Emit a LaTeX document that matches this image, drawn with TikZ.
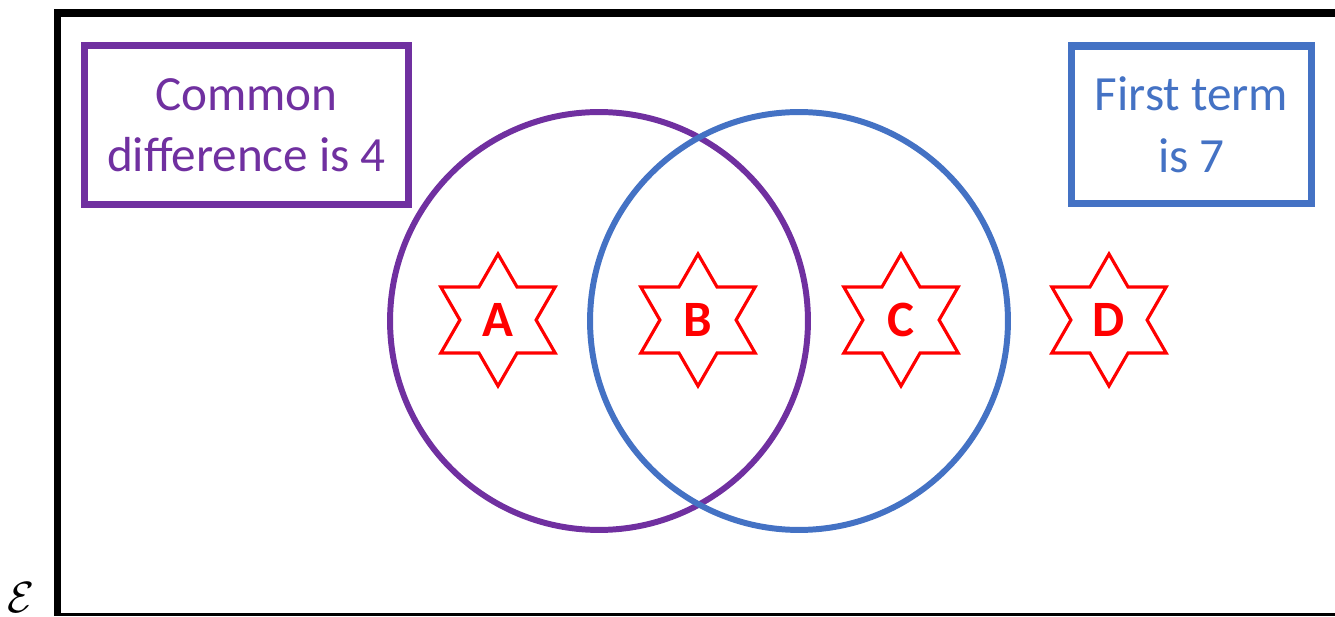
\documentclass[tikz,border=0pt]{standalone}
\usepackage{fontspec}
\setmainfont{Carlito}
\usetikzlibrary{shapes.geometric}

\definecolor{setpurple}{HTML}{7030A0}
\definecolor{setblue}{HTML}{4472C4}
\definecolor{starred}{HTML}{FF0000}

\tikzset{
  setring/.style={draw, circle, line width=3.4pt, minimum size=8.36cm, inner sep=0pt},
  rulebox/.style={draw, line width=4pt, align=center, inner sep=0pt,
    font=\fontsize{28}{35}\selectfont},
  regionstar/.style={draw=starred, star, star points=6, star point ratio=1.732,
    line width=1.8pt, minimum size=2.64cm, inner sep=0pt, text=starred,
    font=\fontsize{29}{35}\selectfont\bfseries}
}

\begin{document}
\begin{tikzpicture}[x=0.02cm, y=-0.02cm]

\useasboundingbox (0,0) rectangle (1335,617);

% Universal set frame
\draw[line width=4.5pt] (1340,13) -- (57.5,13) -- (57.5,616);
\draw[line width=1.7pt] (57.5,614.5) -- (1340,614.5);
\node (univ) at (21,598) {\fontsize{29}{29}\selectfont$\mathcal{E}$};

% The two sets (blue over purple)
\node[setring, draw=setpurple] (diff) at (599,321) {};
\node[setring, draw=setblue] (first) at (799,321) {};

% Labels of the sets
\node[rulebox, draw=setpurple, text=setpurple, minimum width=6.48cm, minimum height=3.18cm]
  (difflabel) at (246.5,125) {Common\\difference is 4};
\node[rulebox, draw=setblue, text=setblue, minimum width=4.81cm, minimum height=3.16cm]
  (firstlabel) at (1191.5,125) {First term\\is 7};

% Regions
\node[regionstar] (A) at (498,320) {A};
\node[regionstar] (B) at (698,320) {B};
\node[regionstar] (C) at (901,320) {C};
\node[regionstar] (D) at (1109,320) {D};

\end{tikzpicture}
\end{document}
